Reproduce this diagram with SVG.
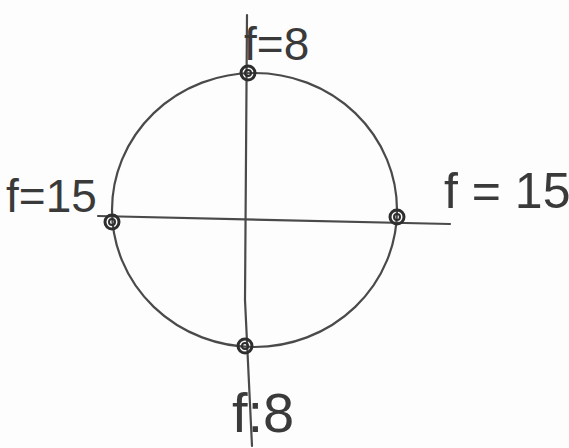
<svg xmlns="http://www.w3.org/2000/svg" width="569" height="448" viewBox="0 0 569 448">
<style>
.ln{fill:none;stroke:#4a4a4a;stroke-width:2.2;stroke-linecap:round}
.dot{fill:none;stroke:#2e2e2e;stroke-width:3}
.dotin{fill:none;stroke:#2e2e2e;stroke-width:2}
.lbl{font-family:"Liberation Sans",Arial,sans-serif;fill:#3a3a3a;font-weight:300}
</style>
<rect width="569" height="448" fill="#fdfdfd"/>
<g id="connectors">
<ellipse class="ln" cx="254.5" cy="210" rx="142.5" ry="137"/>
<path class="ln" d="M247,15 L245,300 L252,446"/>
<path class="ln" d="M98,216 L450,224"/>
</g>
<g id="node-top">
<circle class="dot" cx="248" cy="73" r="7"/>
<circle class="dotin" cx="248" cy="73" r="3"/>
<text class="lbl" x="244" y="60" font-size="46">f=8</text>
</g>
<g id="node-left">
<circle class="dot" cx="112" cy="222" r="7"/>
<circle class="dotin" cx="112" cy="222" r="3"/>
<text class="lbl" x="6" y="212" font-size="46">f=15</text>
</g>
<g id="node-right">
<circle class="dot" cx="397" cy="217" r="7"/>
<circle class="dotin" cx="397" cy="217" r="3"/>
<text class="lbl" x="444" y="208" font-size="50">f = 15</text>
</g>
<g id="node-bottom">
<circle class="dot" cx="245" cy="346" r="7"/>
<circle class="dotin" cx="245" cy="346" r="3"/>
<text class="lbl" x="232" y="432" font-size="56">f:8</text>
</g>
</svg>
